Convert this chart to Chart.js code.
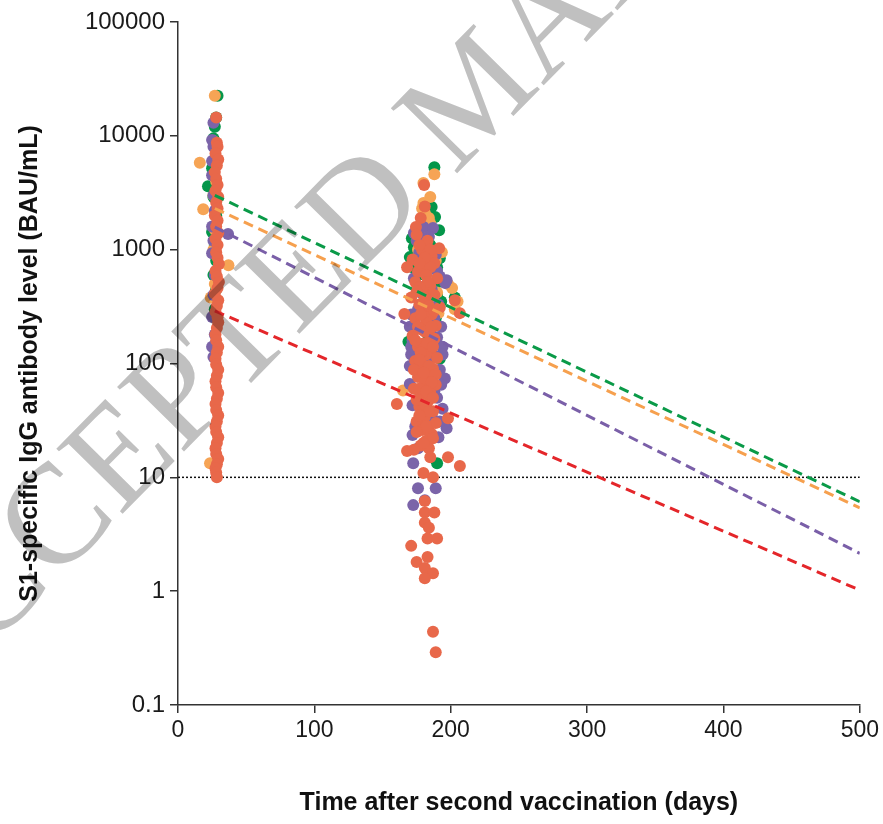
<!DOCTYPE html>
<html>
<head>
<meta charset="utf-8">
<script src="https://cdn.jsdelivr.net/npm/chart.js@4.4.1/dist/chart.umd.min.js"></script>
<style>
	html, body { margin: 0; padding: 0; background: #fff; }
	#wrap { width: 883px; height: 824px; }
</style>
</head>
<body>
<div id="wrap"><canvas id="chart" width="883" height="824"></canvas></div>
<script>
// days after 2nd dose, S1 IgG level (BAU/mL)
const greenPoints = [
	[29, 22500], [28, 14500], [27, 12000], [26, 9500], [25, 5200], [22, 3600], [26, 2900], [28, 2000],
	[25, 1430], [27, 1100], [28, 800], [26, 600], [28, 450], [27, 300],
	[188, 5300], [186, 2370], [188.5, 1940], [191.5, 1480], [171.5, 1260], [170, 860], [173, 1050], [175, 1150],
	[178, 1300], [174, 900], [172, 700], [176, 600], [190, 700], [192, 840], [180, 1900], [183, 1600],
	[185, 1100], [187, 800], [189, 500], [190, 400], [203, 380], [193, 350], [189, 250], [169, 155],
	[184, 170], [192, 110], [178, 60], [190, 13.3]
];
const orangePoints = [
	[27, 22500], [16, 5800], [18.5, 2270], [23.5, 13.3], [37, 730], [24, 380], [26, 9000], [27, 6000],
	[28, 4000], [26, 3000], [27, 1500], [26, 1000], [27, 500],
	[188, 4600], [180, 3850], [185, 2900], [180, 2570], [181, 2100], [193.5, 950], [201, 460], [165, 58],
	[183, 1300], [185, 1700], [178, 1250], [186, 700], [189, 800], [182, 600], [184, 480], [190, 420],
	[205, 350], [203, 300], [198, 500], [176, 1000], [179, 2300], [184, 1900], [180, 350], [191, 277]
];
const purplePoints = [
	[26, 13000], [25, 9200], [26, 8000], [25, 6000], [25, 4500], [26, 3000], [27, 2200], [25, 1600],
	[36.7, 1370], [26, 1200], [25, 930], [27, 600], [26, 400], [25, 256], [27, 180], [25, 140], [26, 114],
	[180, 1580], [187, 1550], [180, 1260], [182, 1030], [180, 800], [197, 540], [196, 510], [175, 1200],
	[184, 1300], [190, 650], [192, 580], [186, 450], [178, 420], [183, 350], [176, 300], [188, 250],
	[174, 220], [185, 185], [172, 160], [194, 140], [187, 120], [175, 97], [178, 80], [195.7, 74],
	[172, 43], [184, 60], [190, 50], [194, 40], [186, 35], [180, 30], [197, 27], [191, 22.5], [172, 23.5],
	[176, 18], [172.5, 13.3], [176, 8], [189, 8], [181, 6.3], [172.5, 5.7],
	[173, 1400], [177, 950], [189, 900], [173, 560], [181, 480], [191, 330], [171, 270], [183, 200],
	[190, 170], [171, 120], [183, 105], [192, 88], [170, 66], [188, 57], [179, 36], [192, 31], [174, 28],
	[170, 210], [171, 140], [170, 95], [193, 210], [194, 120], [193, 65]
];
const redPoints = [
	[28, 14500], [28.5, 8700], [29, 8000], [27.5, 7000], [29.5, 6200], [28.5, 5500], [27, 4800], [28, 4200],
	[29, 3700], [27.5, 3300], [29.5, 2900], [28, 2600], [29, 2300], [27, 2000], [29, 1800], [28, 1600],
	[29.5, 1400], [27.5, 1250], [29, 1100], [28, 950], [29, 850], [30, 750], [27.5, 650], [28.5, 580],
	[30, 520], [29, 460], [27, 410], [29.5, 360], [28.5, 320], [27.5, 285], [29, 255], [29.5, 230],
	[28.5, 205], [27.5, 180], [28, 160], [29.5, 140], [28.5, 125], [27.5, 110], [28, 98], [29.5, 88],
	[28.5, 78], [27.5, 70], [28, 62], [29.5, 55], [28.5, 49], [27.5, 44], [28, 39], [29.5, 35],
	[28.5, 31], [27.5, 28], [28, 25], [29.5, 22.5], [28.5, 20], [27.5, 18], [28, 16], [29.5, 14.5],
	[28.5, 13], [27.5, 12], [28, 11], [28.5, 10],
	[180.5, 3700], [181, 2400], [178, 1900], [174.5, 1580], [175, 1350], [183, 1200], [191.5, 1030], [179, 1000],
	[186, 880], [172, 820], [188, 760], [168, 700], [180, 700], [185, 700], [176, 640], [182, 600],
	[190, 560], [174, 520], [185, 480], [179, 440], [188, 400], [171, 380], [203, 360], [183, 360],
	[206.7, 277], [166, 272], [177, 330], [192, 310], [180, 290], [186, 270], [174, 250], [182, 230],
	[189, 215], [178, 200], [184, 185], [172, 175], [188, 165], [180, 150], [176, 140], [185, 130],
	[182, 120], [190, 112], [174, 105], [179, 98], [187, 90], [183, 82], [176, 76], [181, 70],
	[189, 65], [173, 60], [185, 55], [179, 50], [183, 46], [160.5, 44], [177, 42], [187, 38],
	[181, 34], [198, 33], [175, 31], [184, 28], [179, 26], [186, 24], [182, 21], [178, 19],
	[184, 18], [173, 17.5], [168, 17], [198, 15], [206.7, 12.6], [180, 10.9], [187, 10], [181, 6.2],
	[181, 4.9], [188, 4.9], [181, 4.0], [184, 3.6], [183, 2.9], [190, 2.9], [171, 2.5], [183, 2.0],
	[175, 1.8], [181, 1.6], [187, 1.44], [181, 1.3], [187, 0.44], [189, 0.29],
	[177, 1100], [185, 1000], [181, 850], [177, 760], [183, 520], [177, 470], [186, 400], [175, 430],
	[181, 380], [184, 320], [178, 270], [188, 290], [176, 210], [181, 190], [186, 210], [174, 160],
	[183, 150], [178, 125], [187, 140], [177, 108], [184, 95], [173, 88], [189, 80], [180, 83],
	[186, 68], [177, 60], [182, 57], [175, 48], [187, 50], [181, 44], [184, 38], [177, 35],
	[189, 30], [182, 28], [175, 25], [187, 22], [180, 20], [185, 15]
];

// decay fits, start and end of each dashed line
const fitDays = [27, 500];
const greenFit = [3000, 6.1];
const orangeFit = [2300, 5.4];
const purpleFit = [1580, 2.15];
const redFit = [290, 1.02];

const thresholdLevel = 10;
const yTickValues = [0.1, 1, 10, 100, 1000, 10000, 100000];

function toXY(pairs) {
	return pairs.map(p => ({ x: p[0], y: p[1] }));
}
function fitLine(levels) {
	return fitDays.map((d, i) => ({ x: d, y: levels[i] }));
}
function dots(label, pairs, color, order) {
	return {
		label: label,
		data: toXY(pairs),
		backgroundColor: color,
		borderWidth: 0,
		pointRadius: 6,
		order: order
	};
}
function dashed(label, levels, color) {
	return {
		label: label,
		data: fitLine(levels),
		showLine: true,
		borderColor: color,
		borderWidth: 3,
		borderDash: [10, 6],
		pointRadius: 0,
		order: 0
	};
}

const watermark = {
	id: "watermark",
	afterDraw(chart) {
		const ctx = chart.ctx;
		ctx.save();
		ctx.globalCompositeOperation = "multiply";
		ctx.translate(-85, 725);
		ctx.rotate(-45.5 * Math.PI / 180);
		ctx.font = "142px 'Liberation Serif'";
		ctx.fillStyle = "#c0c0c0";
		ctx.textBaseline = "alphabetic";
		ctx.fillText("ACCEPTED MANUSCRIPT", 0, 0);
		ctx.restore();
	}
};

const axisColor = "#333";

new Chart(document.getElementById("chart").getContext("2d"), {
	type: "scatter",
	data: {
		datasets: [
			dashed("green fit", greenFit, "#0a9a48"),
			dashed("orange fit", orangeFit, "#f6a04e"),
			dashed("purple fit", purpleFit, "#7a5fa8"),
			dashed("red fit", redFit, "#e4262a"),
			dots("red", redPoints, "#e8684a", 1),
			dots("purple", purplePoints, "#7b64a9", 2),
			dots("orange", orangePoints, "#f6a455", 3),
			dots("green", greenPoints, "#04964a", 4),
			{
				label: "threshold",
				data: [{ x: 0, y: thresholdLevel }, { x: 500, y: thresholdLevel }],
				showLine: true,
				borderColor: "#111",
				borderWidth: 1.5,
				borderDash: [2, 2],
				pointRadius: 0,
				order: 5
			}
		]
	},
	options: {
		responsive: false,
		animation: false,
		layout: { padding: { left: 10, top: 22, right: 23, bottom: 0 } },
		plugins: {
			legend: { display: false },
			tooltip: { enabled: false }
		},
		scales: {
			x: {
				type: "linear",
				min: 0,
				max: 500,
				ticks: {
					stepSize: 100,
					color: "#1a1a1a",
					padding: 4,
					font: { family: "'Liberation Sans', Arial", size: 23 }
				},
				grid: { drawOnChartArea: false, drawTicks: true, tickLength: 8, color: axisColor, lineWidth: 1.5 },
				border: { display: true, color: axisColor, width: 1.5 },
				title: {
					display: true,
					text: "Time after second vaccination (days)",
					color: "#111",
					padding: { top: 0, bottom: 6 },
					font: { family: "'Liberation Sans', Arial", size: 25, weight: "bold" }
				},
				afterFit(scale) { scale.height = 119; }
			},
			y: {
				type: "logarithmic",
				min: 0.1,
				max: 100000,
				afterBuildTicks(scale) {
					scale.ticks = yTickValues.map(v => ({ value: v }));
				},
				ticks: {
					color: "#1a1a1a",
					padding: 5,
					font: { family: "'Liberation Sans', Arial", size: 24 },
					callback: value => String(value)
				},
				grid: { drawOnChartArea: false, drawTicks: true, tickLength: 8, color: axisColor, lineWidth: 1.5 },
				border: { display: true, color: axisColor, width: 1.5 },
				title: {
					display: true,
					text: "S1-specific IgG antibody level (BAU/mL)",
					color: "#111",
					padding: { top: 5, bottom: 0 },
					font: { family: "'Liberation Sans', Arial", size: 25, weight: "bold" }
				},
				afterFit(scale) { scale.width = 168; }
			}
		}
	},
	plugins: [watermark]
});
</script>
</body>
</html>
